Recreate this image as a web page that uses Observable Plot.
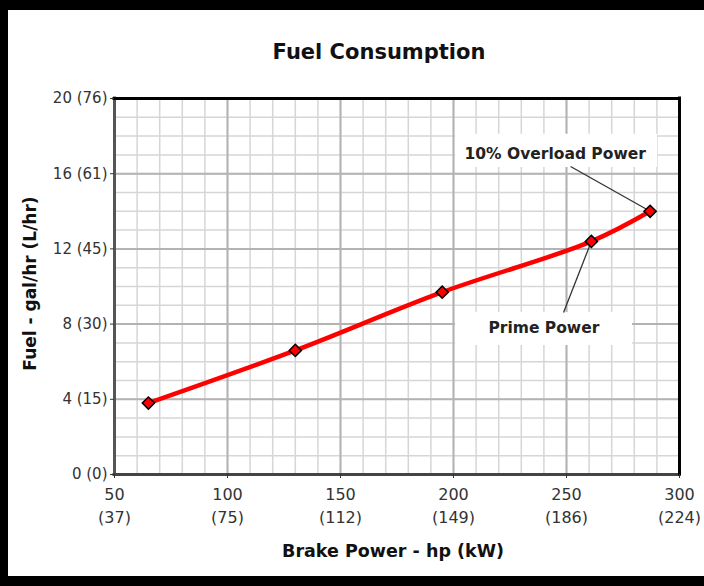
<!DOCTYPE html>
<html>
<head>
<meta charset="utf-8">
<script src="https://cdn.jsdelivr.net/npm/d3@7"></script>
<script src="https://cdn.jsdelivr.net/npm/@observablehq/plot@0.6"></script>
<style>
  html, body { margin: 0; padding: 0; background: #fff; }
  #wrap { position: relative; width: 704px; height: 586px; overflow: hidden; }
  #wrap svg { position: absolute; left: 0; top: 0; }
  #border { position: absolute; left: 0; top: 0; width: 704px; height: 586px; box-sizing: border-box;
            border-left: 8px solid #000; border-top: 10px solid #000; border-bottom: 10px solid #000; pointer-events: none; }
</style>
</head>
<body>
<div id="wrap"><div id="border"></div></div>
<script>
// Data
const brakeHp = [65, 130, 195, 261, 287];
const fuelGal = [3.8, 6.6, 9.7, 12.4, 14.0];

// Tick labels
const xTicks = [50, 100, 150, 200, 250, 300];
const xTicksKw = [37, 75, 112, 149, 186, 224];
const yTicks = [0, 4, 8, 12, 16, 20];
const yTicksL = [0, 15, 30, 45, 61, 76];

// Annotation labels and their target point index
const noteLabels = ["10% Overload Power", "Prime Power"];
const noteTargets = [4, 3];
// annotation placement (data coordinates)
const noteTextX = [245, 240];
const noteTextY = [17.07, 7.77];
const noteBoxX = [[200.9, 290.3], [200.9, 279.2]];
const noteBoxY = [[16.33, 18.1], [6.86, 8.62]];
const noteLineX = [251.8, 248.7];
const noteLineY = [16.38, 8.62];

const points = brakeHp.map((hp, i) => ({hp, gal: fuelGal[i]}));
const notes = noteLabels.map((label, i) => ({
  label,
  tx: noteTextX[i], ty: noteTextY[i],
  bx1: noteBoxX[i][0], bx2: noteBoxX[i][1], by1: noteBoxY[i][0], by2: noteBoxY[i][1],
  lx: noteLineX[i], ly: noteLineY[i],
  px: brakeHp[noteTargets[i]], py: fuelGal[noteTargets[i]]
}));
const kwMap = new Map(xTicks.map((d, i) => [d, xTicksKw[i]]));
const lMap = new Map(yTicks.map((d, i) => [d, yTicksL[i]]));
const minorX = d3.range(50, 301, 10);
const minorY = d3.range(0, 21, 1);

const chart = Plot.plot({
  width: 704,
  height: 586,
  marginLeft: 114,
  marginRight: 25,
  marginTop: 98,
  marginBottom: 112,
  style: {fontFamily: "'DejaVu Sans', Verdana, sans-serif", background: "transparent", overflow: "visible"},
  x: {domain: [50, 300]},
  y: {domain: [0, 20]},
  marks: [
    Plot.gridX(minorX, {stroke: "#d6d6d6", strokeOpacity: 1, strokeWidth: 1.5}),
    Plot.gridY(minorY, {stroke: "#d6d6d6", strokeOpacity: 1, strokeWidth: 1.5}),
    Plot.gridX(xTicks, {stroke: "#b3b3b3", strokeOpacity: 1, strokeWidth: 2}),
    Plot.gridY(yTicks, {stroke: "#b3b3b3", strokeOpacity: 1, strokeWidth: 2}),
    Plot.rect(notes, {x1: "bx1", x2: "bx2", y1: "by1", y2: "by2", fill: "white"}),
    Plot.ruleX([50], {stroke: "#555", strokeWidth: 3, strokeLinecap: "square"}),
    Plot.ruleY([0], {stroke: "#444", strokeWidth: 3, strokeLinecap: "square"}),
    Plot.ruleY([20], {stroke: "#000", strokeWidth: 3, strokeLinecap: "square"}),
    Plot.ruleX([300], {stroke: "#000", strokeWidth: 3, strokeLinecap: "square"}),
    Plot.axisX(xTicks, {
      anchor: "bottom", tickSize: 4, tickPadding: 6, fontSize: 16, lineHeight: 1.4,
      color: "#333", label: null,
      tickFormat: d => `${d}\n(${kwMap.get(d)})`
    }),
    Plot.axisY(yTicks, {
      anchor: "left", tickSize: 4, tickPadding: 3, fontSize: 15,
      color: "#333", label: null,
      tickFormat: d => `${d} (${lMap.get(d)})`
    }),
    Plot.link(notes, {x1: "lx", y1: "ly", x2: "px", y2: "py", stroke: "#333", strokeWidth: 1.3}),
    Plot.line(points, {x: "hp", y: "gal", stroke: "#ff0000", strokeWidth: 4.5, curve: "catmull-rom"}),
    Plot.dot(points, {x: "hp", y: "gal", symbol: "diamond2", r: 5.5, fill: "#ff0000", stroke: "#000", strokeWidth: 1.5}),
    Plot.text(notes, {x: "tx", y: "ty", text: "label", fontSize: 15.5, fontWeight: "bold", fill: "#222"}),
    Plot.text(["Fuel Consumption"], {frameAnchor: "top", lineAnchor: "middle", dy: -46, dx: -18, fontSize: 21, fontWeight: "bold", fill: "#111"}),
    Plot.text(["Brake Power - hp (kW)"], {frameAnchor: "bottom", lineAnchor: "middle", dy: 77, dx: -4, fontSize: 17.5, fontWeight: "bold", fill: "#111"}),
    Plot.text(["Fuel - gal/hr (L/hr)"], {frameAnchor: "left", textAnchor: "middle", lineAnchor: "middle", dx: -84, dy: -3, rotate: -90, fontSize: 17, fontWeight: "bold", fill: "#111"})
  ]
});
document.getElementById("wrap").prepend(chart);
</script>
</body>
</html>
